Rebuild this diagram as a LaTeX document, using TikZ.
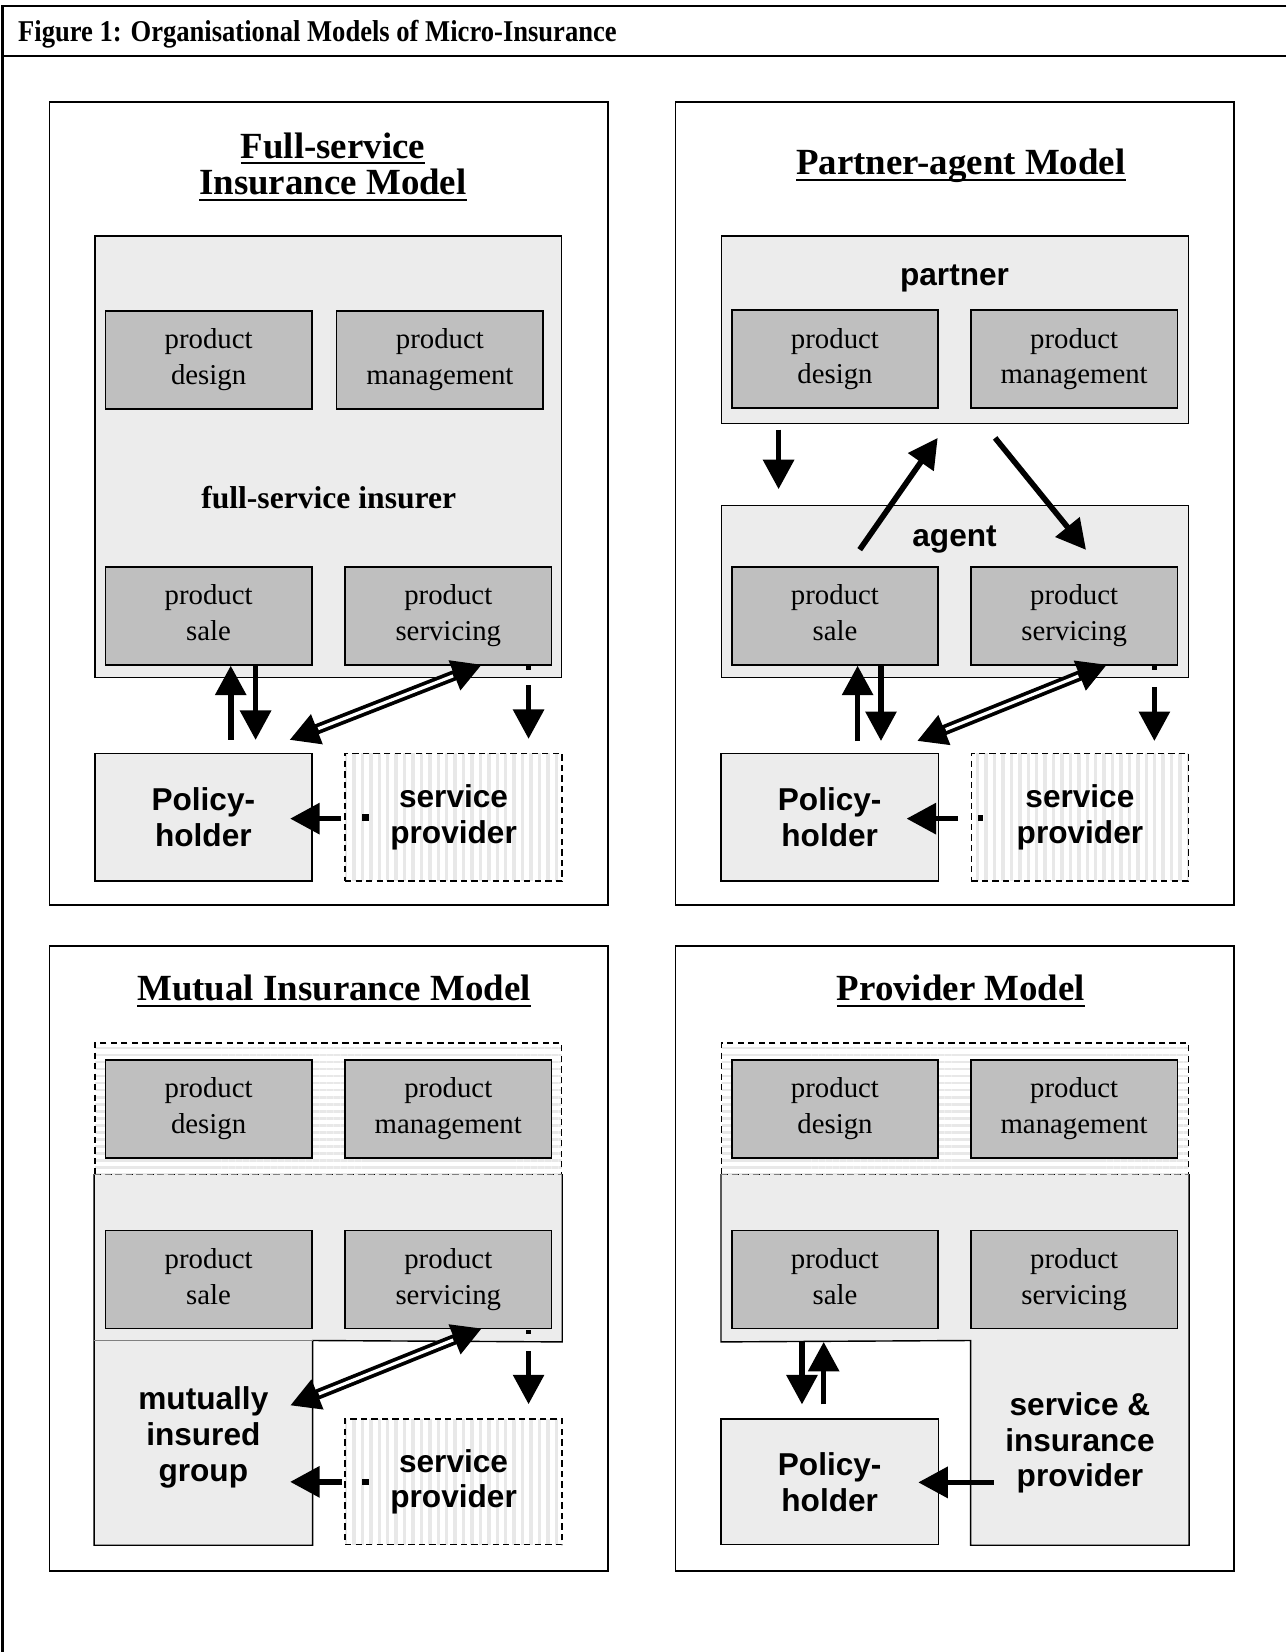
\documentclass[tikz,border=0pt]{standalone}
\usepackage{fontspec}
\setmainfont{Liberation Serif}
\setsansfont{Liberation Sans}
\usetikzlibrary{arrows.meta,calc,patterns.meta}

\newcommand{\modeltitle}[1]{\setbox0=\hbox{#1}\rlap{\vrule width\wd0 height -3pt depth 4.5pt}\box0}

\begin{document}
\begin{tikzpicture}[x=0.75pt,y=-0.75pt,
	panel/.style={line width=1.1pt},
	orgbox/.style={draw, line width=1pt, fill=gray!15, inner sep=0pt},
	prodbox/.style={draw, line width=1.2pt, fill=gray!50, minimum width=147pt, minimum height=69.75pt, inner sep=0pt, align=center, execute at begin node={\rule{0pt}{22.5pt}}, execute at end node={\rule[-4.55pt]{0pt}{4.55pt}}, font=\fontsize{20.5}{25.5}\selectfont},
	party/.style={draw, line width=1pt, fill=gray!15, minimum width=154.5pt, inner sep=0pt, align=center, font=\sffamily\bfseries\fontsize{22.5}{25.5}\selectfont},
	dashedge/.style={postaction={draw, line width=1pt, dash pattern=on 4.5pt off 3pt}},
	provbox/.style={party, draw=none, pattern={Lines[angle=90,distance=6pt,line width=2.5pt]}, pattern color=gray!18, dashedge},
	hatchbox/.style={draw=none, line width=1pt, pattern={Lines[angle=0,distance=5pt,line width=2pt]}, pattern color=gray!18, dashedge, minimum width=332.25pt, minimum height=93.75pt, inner sep=0pt},
	modelname/.style={anchor=base, font=\bfseries\fontsize{26.25}{26.25}\selectfont},
	insname/.style={font=\sffamily\bfseries\fontsize{22.5}{25.5}\selectfont},
	bigarrow/.style={line width=4pt, -{Triangle[length=21pt,width=21.5pt]}},
	dblarrow/.style={line width=7.5pt, {Triangle[length=21pt,width=21.5pt]}-{Triangle[length=21pt,width=21.5pt]}},
	dblgap/.style={white, line width=2.2pt, shorten <=22pt, shorten >=22pt}]
	\useasboundingbox (0,0) rectangle (1221,1568);
	\draw[line width=1.8pt] (1221,5.5) -- (2.5,5.5) -- (2.5,1568);
	\draw[line width=1.8pt] (2.5,53) -- (1221,53);
	\node (fig) at (17,39.6) [anchor=base west, font=\bfseries\fontsize{21.5}{24}\selectfont, inner sep=0pt] {\scalebox{0.88}[1]{Figure 1: Organisational Models of Micro-Insurance}};
	\foreach \x/\y/\h in {47/97/762, 641/97/762, 47/898/593, 641/898/593} {
		\draw[panel] (\x,\y) rectangle ++(530,\h);
	}

	\node (title1a) at (316,150) [modelname] {\modeltitle{Full-service}};
	\node (title1b) at (316,185) [modelname] {\modeltitle{Insurance Model}};
	\node (insurer) at (311.5,433.5) [orgbox, minimum width=332.25pt, minimum height=314.25pt] {};
	\node (design1) at (198,341.5) [prodbox] {product\\design};
	\node (manage1) at (417.5,341.5) [prodbox] {product\\management};
	\node (insname1) at (312,472) [font=\bfseries\fontsize{22.5}{25.5}\selectfont] {full-service insurer};
	\node (sale1) at (198,584.5) [prodbox] {product\\sale};
	\node (servicing1) at (425.5,584.5) [prodbox] {product\\servicing};
	\node (holder1) at (193,775.5) [party, minimum height=90.75pt] {Policy-\\holder};
	\node (provider1) at (430.5,775.5) [provbox, minimum height=90.75pt] {service\\provider};
	\draw[bigarrow] ($(holder1.north)+(26,-12)$) -- ($(sale1.south)+(21,0)$);
	\draw[bigarrow] ($(sale1.south)+(44.6,0)$) -- ($(holder1.north)+(49.6,-12)$);
	\draw[dblarrow] ($(holder1.north)+(81.7,-12)$) -- ($(servicing1.south)+(31.9,-1)$);
	\draw[dblgap] ($(holder1.north)+(81.7,-12)$) -- ($(servicing1.south)+(31.9,-1)$);
	\draw[bigarrow] ($(provider1.north)+(71.2,-63)$) -- ($(provider1.north)+(71.2,-12)$);
	\draw[bigarrow] ($(provider1.west)+(-2,1.5)$) -- ($(holder1.east)+(-21.3,1.5)$);
	\fill (499.5,631.5) rectangle (504,635.5);
	\fill (343.5,773) rectangle (349.8,779);

	\node (title2) at (912,166) [modelname] {\modeltitle{Partner-agent Model}};
	\node (partner) at (906.5,313) [orgbox, minimum width=332.25pt, minimum height=133.5pt] {};
	\node (partnername) at (906,264) [insname] {partner};
	\node (design2) at (792.5,341) [prodbox] {product\\design};
	\node (manage2) at (1019.5,341) [prodbox] {product\\management};
	\node (agent) at (906.5,561.5) [orgbox, minimum width=332.25pt, minimum height=122.25pt] {};
	\node (agentname) at (906,512) [insname] {agent};
	\node (sale2) at (792.5,584.5) [prodbox] {product\\sale};
	\node (servicing2) at (1019.5,584.5) [prodbox] {product\\servicing};
	\node (holder2) at (787.5,775.5) [party, minimum height=90.75pt] {Policy-\\holder};
	\node (provider2) at (1025,775.5) [provbox, minimum height=90.75pt] {service\\provider};
	\draw[bigarrow] ($(partner.south)+(-167.5,5)$) -- ($(agent.north)+(-167.5,-15)$);
	\draw[bigarrow] ($(sale2.north)+(23.5,-15.5)$) -- ($(partner.south)+(-16.5,13)$);
	\draw[bigarrow] ($(partner.south)+(38,13)$) -- ($(servicing2.north)+(11.3,-15.3)$);
	\draw[bigarrow] ($(holder2.north)+(26.5,-11)$) -- ($(sale2.south)+(21.5,0)$);
	\draw[bigarrow] ($(sale2.south)+(43.7,0)$) -- ($(holder2.north)+(48.7,-11)$);
	\draw[dblarrow] ($(holder2.north)+(82.9,-11)$) -- ($(servicing2.south)+(31.3,-1)$);
	\draw[dblgap] ($(holder2.north)+(82.9,-11)$) -- ($(servicing2.south)+(31.3,-1)$);
	\draw[bigarrow] ($(provider2.north)+(70.7,-62.4)$) -- ($(provider2.north)+(70.7,-11)$);
	\draw[bigarrow] ($(provider2.west)+(-12,1.5)$) -- ($(holder2.east)+(-30.7,1.5)$);
	\fill (1093.5,631.5) rectangle (1098,635.5);
	\fill (928.3,774) rectangle (933,779.5);

	\node (title3) at (317,950) [modelname] {\modeltitle{Mutual Insurance Model}};
	\node (upper3) at (311.5,1052.5) [hatchbox] {};
	\node (lower3) at (311.5,1194) [orgbox, draw=none, minimum width=332.25pt, minimum height=118.5pt] {};
	\node (group3) at (193,1369.5) [party, draw=none, minimum height=144.75pt, execute at end node={\rule[-12.2pt]{0pt}{12.2pt}}] {mutually\\insured\\group};
	\draw[line width=1pt] (lower3.north west) -- (group3.south west) -- (group3.south east) -- (group3.north east) -- (lower3.south east) -- (lower3.north east);
	\draw[gray, line width=0.6pt] (group3.north west) -- (group3.north east);
	\draw[gray, line width=0.6pt, dash pattern=on 4.5pt off 3pt] (lower3.north west) -- (lower3.north east);
	\node (design3) at (198,1052.5) [prodbox] {product\\design};
	\node (manage3) at (425.5,1052.5) [prodbox] {product\\management};
	\node (sale3) at (198,1214.5) [prodbox] {product\\sale};
	\node (servicing3) at (425.5,1214.5) [prodbox] {product\\servicing};
	\node (provider3) at (430.5,1406.5) [provbox, minimum height=89.25pt] {service\\provider};
	\draw[dblarrow] ($(group3.east)+(-21.3,-35.5)$) -- ($(servicing3.south)+(31.9,-1)$);
	\draw[dblgap] ($(group3.east)+(-21.3,-35.5)$) -- ($(servicing3.south)+(31.9,-1)$);
	\draw[bigarrow] ($(provider3.north)+(71.2,-64)$) -- ($(provider3.north)+(71.2,-13.5)$);
	\draw[bigarrow] ($(provider3.west)+(-2,0)$) -- ($(group3.east)+(-21.3,37)$);
	\fill (499.5,1262) rectangle (504,1266);
	\fill (343.5,1403.5) rectangle (349.8,1409.5);

	\node (title4) at (912,950) [modelname] {\modeltitle{Provider Model}};
	\node (upper4) at (906.5,1052.5) [hatchbox] {};
	\node (lower4) at (906.5,1194) [orgbox, draw=none, minimum width=332.25pt, minimum height=118.5pt] {};
	\node (sip4) at (1025,1369.5) [party, draw=none, minimum height=144.75pt, execute at begin node={\rule{0pt}{25pt}}] {service \&\\insurance\\provider};
	\draw[line width=1pt] (lower4.north west) -- (lower4.south west) -- (sip4.north west) -- (sip4.south west) -- (sip4.south east) -- (lower4.north east);
	\draw[gray, line width=0.6pt, dash pattern=on 4.5pt off 3pt] (lower4.north west) -- (lower4.north east);
	\node (design4) at (792.5,1052.5) [prodbox] {product\\design};
	\node (manage4) at (1019.5,1052.5) [prodbox] {product\\management};
	\node (sale4) at (792.5,1214.5) [prodbox] {product\\sale};
	\node (servicing4) at (1019.5,1214.5) [prodbox] {product\\servicing};
	\node (holder4) at (787.5,1406.5) [party, minimum height=89.25pt] {Policy-\\holder};
	\draw[bigarrow] ($(lower4.south)+(-145.3,0)$) -- ($(holder4.north)+(-26.3,-13.3)$);
	\draw[bigarrow] ($(holder4.north)+(-5.7,-13.3)$) -- ($(lower4.south)+(-124.7,0)$);
	\draw[bigarrow] ($(sip4.west)+(21.8,37.5)$) -- ($(holder4.east)+(-19.6,0.5)$);
\end{tikzpicture}
\end{document}
